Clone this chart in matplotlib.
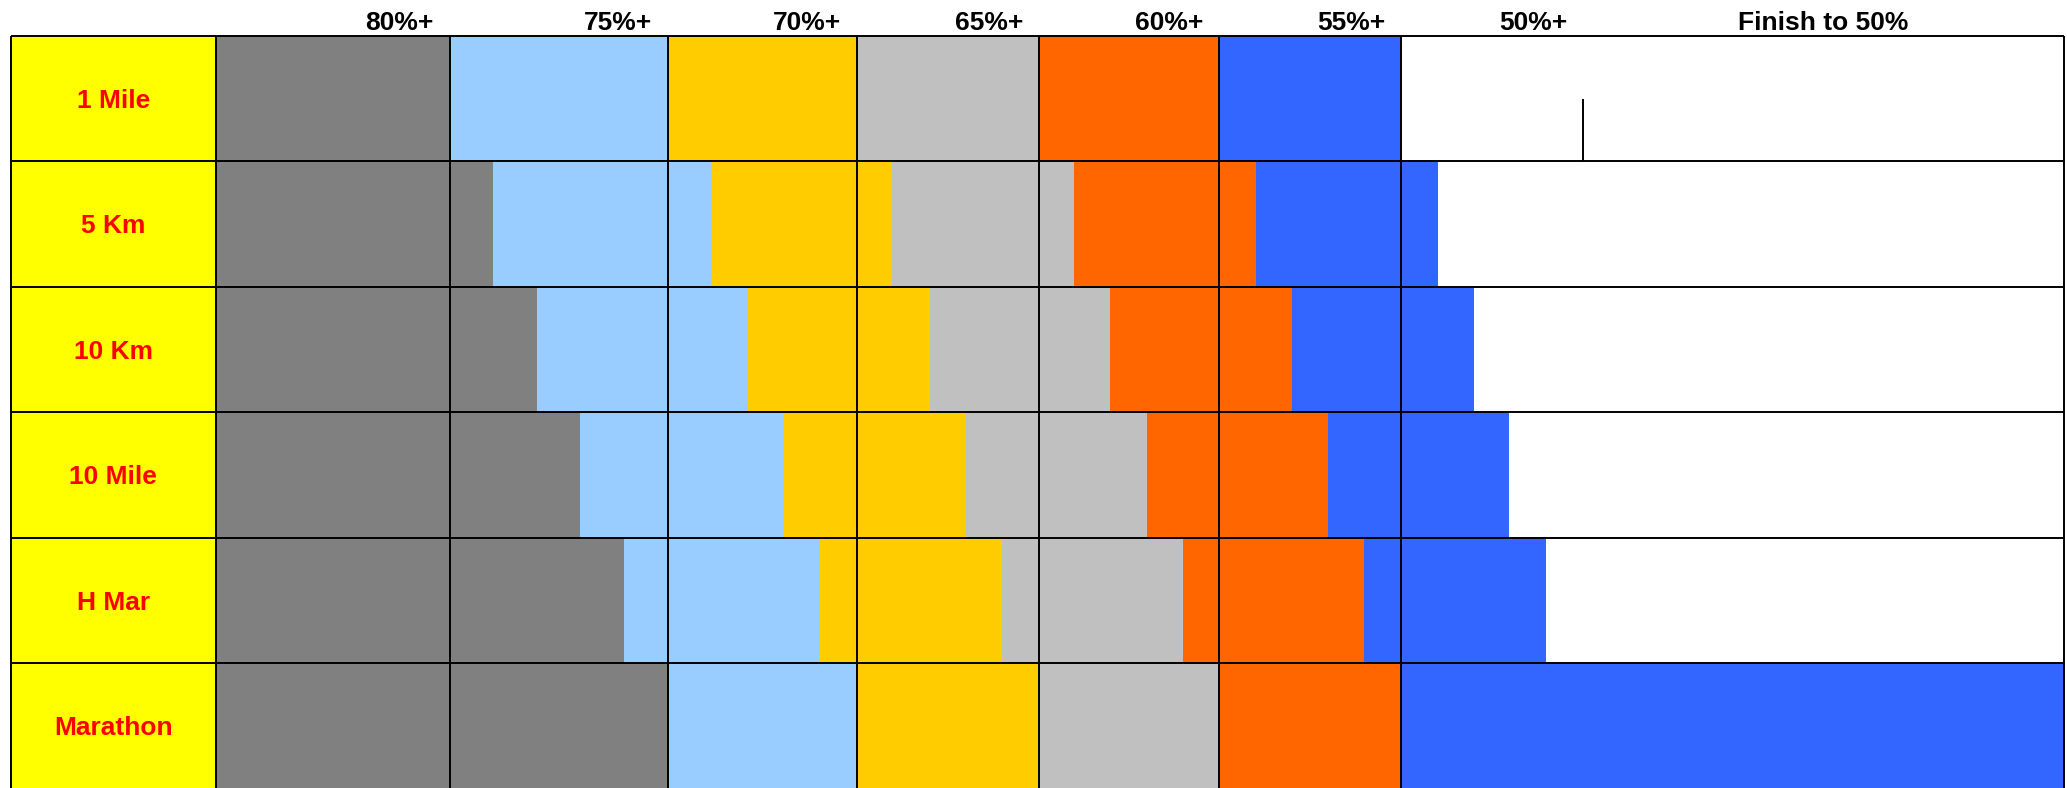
import matplotlib
matplotlib.use('Agg')
import matplotlib.pyplot as plt
import numpy as np

plt.rcParams['font.family'] = ['Liberation Sans', 'DejaVu Sans']

events = ['1 Mile', '5 Km', '10 Km', '10 Mile', 'H Mar', 'Marathon']
headers = ['80%+', '75%+', '70%+', '65%+', '60%+', '55%+', '50%+']
last_header = 'Finish to 50%'

# where each band ends along its row (chart scale units, grid starts at 0)
gray_end = [177, 210, 243, 276, 309, 343]
ltblue_end = [343, 376, 403, 431, 458, 486]
gold_end = [486, 513, 541.5, 569, 596, 624]
silver_end = [624, 651, 678, 706, 733.5, 761]
orange_end = [761, 789, 816, 843.5, 871, 899]
blue_end = [899, 927, 954, 981, 1008.7, 1401.5]

band_ends = [gray_end, ltblue_end, gold_end, silver_end, orange_end, blue_end]
band_colors = ['#808080', '#99CCFF', '#FFCC00', '#C0C0C0', '#FF6600', '#3366FF']

# column edges of the grid (1 Mile row boundaries)
col_edges = [0, 177, 343, 486, 624, 761, 899, 1401.5]
mile_50 = 1037   # 50% mark on the 1 Mile row
label_w = 156    # width of the yellow label column

fig = plt.figure(figsize=(20.67, 7.88), dpi=100)
ax = fig.add_axes([0, 0, 1, 1])
ax.set_xlim(-164, 1404)
ax.set_ylim(5.995, -0.287)
ax.axis('off')

y = np.arange(len(events)) + 0.5

# yellow label column
ax.barh(y, label_w, left=-label_w, height=1, color='#FFFF00', linewidth=0)

left = np.zeros(len(events))
for ends, c in zip(band_ends, band_colors):
    ends = np.array(ends, dtype=float)
    ax.barh(y, ends - left, left=left, height=1, color=c, linewidth=0)
    left = ends

# grid lines
lw = 1.4
ax.vlines([-label_w] + col_edges, 0, len(events), color='black', lw=lw)
ax.hlines(np.arange(len(events) + 1), -label_w, col_edges[-1], color='black', lw=lw)
ax.vlines(mile_50, 0.5, 1, color='black', lw=lw)

# row labels
for yy, name in zip(y, events):
    ax.text(-label_w / 2, yy + 0.073, name, ha='center', va='baseline',
            color='#FF0000', fontsize=19, fontweight='bold')

# column headers, right aligned just inside each column edge
hdr_edges = col_edges[1:7] + [mile_50]
for h, e in zip(headers, hdr_edges):
    ax.text(e - 12, -0.048, h, ha='right', va='baseline',
            color='black', fontsize=19, fontweight='bold')
ax.text((mile_50 + col_edges[-1]) / 2, -0.048, last_header, ha='center',
        va='baseline', color='black', fontsize=19, fontweight='bold')

fig.savefig('out.png', dpi=100)
